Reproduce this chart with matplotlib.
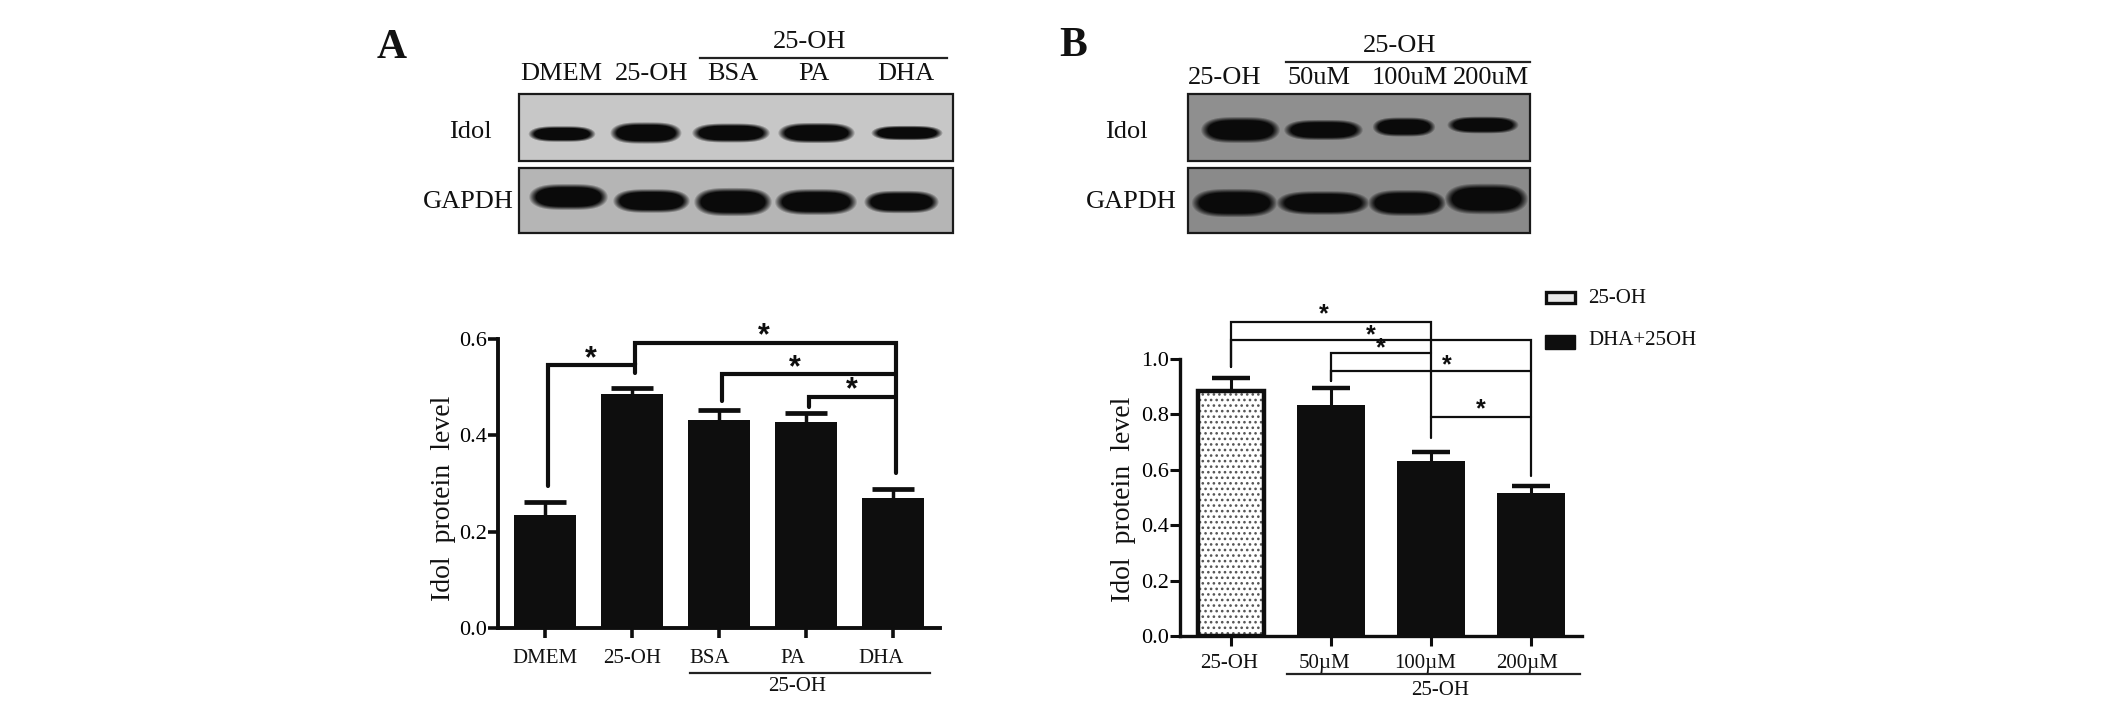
import matplotlib
matplotlib.use('Agg')
import matplotlib.pyplot as plt
import numpy as np
from matplotlib.patches import Rectangle

plt.rcParams['font.family'] = ['Liberation Serif', 'DejaVu Serif']
plt.rcParams['hatch.linewidth'] = 1.1

W, H = 2126, 702
DARK = '#0e0e0e'

# bar chart A
labels_a = ['DMEM', '25-OH', 'BSA', 'PA', 'DHA']
values_a = [0.235, 0.485, 0.432, 0.428, 0.270]
err_a = [0.027, 0.013, 0.021, 0.019, 0.018]
ticks_a = [0.0, 0.2, 0.4, 0.6]

# bar chart B
labels_b = ['25-OH', '50µM', '100µM', '200µM']
values_b = [0.885, 0.835, 0.632, 0.515]
err_b = [0.047, 0.062, 0.033, 0.027]
ticks_b = [0.0, 0.2, 0.4, 0.6, 0.8, 1.0]

# blot lanes
blot_labels_a = ['DMEM', '25-OH', 'BSA', 'PA', 'DHA']
blot_labels_b = ['25-OH', '50uM', '100uM', '200uM']
# (left, right, centre y, height) in pixels
idol_a = [(531, 593, 134, 14), (613, 679, 133, 19), (695, 767, 133, 17), (781, 852, 133, 18), (874, 940, 133, 13)]
gapdh_a = [(532, 605, 197, 23), (616, 687, 201, 21), (697, 769, 202, 25), (778, 854, 202, 23), (867, 936, 202, 20)]
idol_b = [(1204, 1277, 130, 23), (1287, 1360, 130, 18), (1375, 1433, 127, 17), (1450, 1516, 125, 15)]
gapdh_b = [(1195, 1274, 203, 25), (1280, 1366, 203, 21), (1371, 1443, 203, 23), (1448, 1525, 199, 27)]

fig = plt.figure(figsize=(W / 100, H / 100), dpi=100)
bg = fig.add_axes([0, 0, 1, 1])
bg.set_xlim(0, W)
bg.set_ylim(H, 0)
bg.axis('off')


def txt(x, y, s, size=19, **kw):
    bg.text(x, y + 4.5, s, fontsize=size, ha=kw.pop('ha', 'center'), va='center', color='#111111', **kw)


def blot(x0, x1, y0, y1, shade, bands):
    xx, yy = np.meshgrid(np.arange(x0, x1) + 0.5, np.arange(y0, y1) + 0.5)
    ink = np.zeros(xx.shape)
    for left, right, cy, h in bands:
        d = (np.abs(xx - (left + right) / 2) / ((right - left) / 2)) ** 3.5 + (np.abs(yy - cy) / (h / 2)) ** 2
        ink = np.maximum(ink, np.clip((1.35 - d) / 0.7, 0, 1))
    img = shade * (1 - ink) + 0.04 * ink
    bg.imshow(img, extent=(x0, x1, y1, y0), cmap='gray', vmin=0, vmax=1, aspect='auto', interpolation='bilinear')
    bg.add_patch(Rectangle((x0, y0), x1 - x0, y1 - y0, fc='none', ec='#1a1a1a', lw=1.6))


def make_axes(x0, x1, y_bottom, y_top):
    ax = fig.add_axes([x0 / W, 1 - y_bottom / H, (x1 - x0) / W, (y_bottom - y_top) / H])
    ax.patch.set_alpha(0)
    for s in ['top', 'right']:
        ax.spines[s].set_visible(False)
    for s in ['left', 'bottom']:
        ax.spines[s].set_color(DARK)
    return ax


def whiskers(ax, values, errs, lw, cap, capw):
    xs = range(len(values))
    tops = [v + e for v, e in zip(values, errs)]
    ax.vlines(xs, values, tops, color=DARK, lw=lw, zorder=2)
    ax.plot(xs, tops, ls='none', marker='_', ms=cap, mew=capw, color=DARK, zorder=2)


def bracket(ax, x_left, x_right, top, left_end, right_end, lw):
    ax.plot([x_left, x_left, x_right, x_right], [left_end, top, top, right_end],
            color=DARK, lw=lw, clip_on=False, solid_joinstyle='miter', solid_capstyle='round')


def star(ax, x, y, size):
    ax.text(x, y, '*', fontsize=size, ha='center', va='center', color=DARK, clip_on=False,
            family=['Liberation Sans'], fontweight='bold')


# --- panel letters
txt(392, 43, 'A', 30, fontweight='bold')
txt(1073, 41, 'B', 30, fontweight='bold')

# --- blots A
blot(519, 953, 94, 161, 0.78, idol_a)
blot(519, 953, 168, 233, 0.71, gapdh_a)
for x, s in zip([561, 652, 733, 814, 906], blot_labels_a):
    txt(x, 70, s)
bg.plot([700, 947], [58, 58], color='#222222', lw=1.6)
txt(810, 37, '25-OH')
txt(470, 127, 'Idol')
txt(468, 197, 'GAPDH')

# --- blots B
blot(1188, 1530, 94, 161, 0.56, idol_b)
blot(1188, 1530, 168, 233, 0.54, gapdh_b)
for x, s in zip([1225, 1319, 1410, 1491], blot_labels_b):
    txt(x, 73, s)
bg.plot([1286, 1530], [62, 62], color='#222222', lw=1.6)
txt(1400, 42, '25-OH')
txt(1126, 127, 'Idol')
txt(1131, 198, 'GAPDH')
bg.set_xlim(0, W)
bg.set_ylim(H, 0)

# --- chart A
ax = make_axes(498, 940, 628, 339)
ax.set_xlim(-0.54, 4.54)
ax.set_ylim(0, 0.6)
ax.bar(range(5), values_a, width=0.71, color=DARK, zorder=3)
whiskers(ax, values_a, err_a, 2.5, 30, 3.4)
ax.set_yticks(ticks_a)
ax.set_yticklabels(['%.1f' % t for t in ticks_a], fontsize=16)
ax.set_xticks(range(5))
ax.set_xticklabels([])
ax.tick_params(width=2.6, length=7, color=DARK, pad=1)
ax.spines['left'].set_linewidth(2.8)
ax.spines['bottom'].set_linewidth(2.8)
bracket(ax, 0.03, 1.03, 0.545, 0.295, 0.53, 3)
bracket(ax, 1.03, 4.03, 0.591, 0.545, 0.322, 3)
bracket(ax, 2.03, 4.03, 0.527, 0.472, 0.527, 3)
bracket(ax, 3.03, 4.03, 0.48, 0.458, 0.48, 3)
for x, y in [(0.53, 0.557), (2.52, 0.605), (2.87, 0.54), (3.53, 0.493)]:
    star(ax, x, y, 22)
for x, s in zip([545, 632, 710, 793, 881], labels_a):
    txt(x, 654, s, 15)
bg.plot([690, 930], [673, 673], color='#222222', lw=1.6)
txt(797, 682, '25-OH', 15)
txt(444, 494, 'Idol  protein  level', 20, rotation=90)

# --- chart B
ax = make_axes(1180, 1582, 636, 359)
ax.set_xlim(-0.51, 3.51)
ax.set_ylim(0, 1.0)
ax.bar([0], values_b[:1], width=0.66, facecolor='white', edgecolor='#555555', lw=0, hatch='...', zorder=3)
ax.bar([0], values_b[:1], width=0.66, facecolor='none', edgecolor=DARK, lw=3.2, zorder=4)
ax.bar([1, 2, 3], values_b[1:], width=0.68, color=DARK, zorder=3)
whiskers(ax, values_b, err_b, 2.2, 28, 3.2)
ax.set_yticks(ticks_b)
ax.set_yticklabels(['%.1f' % t for t in ticks_b], fontsize=16)
ax.set_xticks(range(4))
ax.set_xticklabels([])
ax.tick_params(width=2.2, length=7, color=DARK, pad=1)
ax.spines['left'].set_linewidth(2.4)
ax.spines['bottom'].set_linewidth(2.4)
bracket(ax, 0, 2, 1.135, 0.97, 0.714, 1.6)
bracket(ax, 0, 3, 1.07, 0.97, 0.579, 1.6)
bracket(ax, 1, 2, 1.02, 0.92, 1.02, 1.6)
bracket(ax, 1, 3, 0.957, 0.92, 0.957, 1.6)
bracket(ax, 2, 3, 0.79, 0.79, 0.79, 1.6)
for x, y in [(0.93, 1.16), (1.4, 1.087), (1.5, 1.04), (2.16, 0.979), (2.5, 0.817)]:
    star(ax, x, y, 18)
for x, s in zip([1229, 1325, 1425, 1527], labels_b):
    txt(x, 659, s, 15)
bg.plot([1287, 1580], [674, 674], color='#222222', lw=1.6)
txt(1440, 686, '25-OH', 15)
txt(1123, 495, 'Idol  protein  level', 20, rotation=90)

# --- legend B
bg.add_patch(Rectangle((1546, 292), 29, 11, fc='#e8e8e8', ec=DARK, lw=2.4))
bg.add_patch(Rectangle((1545, 335), 30, 14, fc=DARK, ec=DARK, lw=1))
txt(1588, 294, '25-OH', 15, ha='left')
txt(1588, 336, 'DHA+25OH', 15, ha='left')

fig.savefig('out.png', dpi=100)
